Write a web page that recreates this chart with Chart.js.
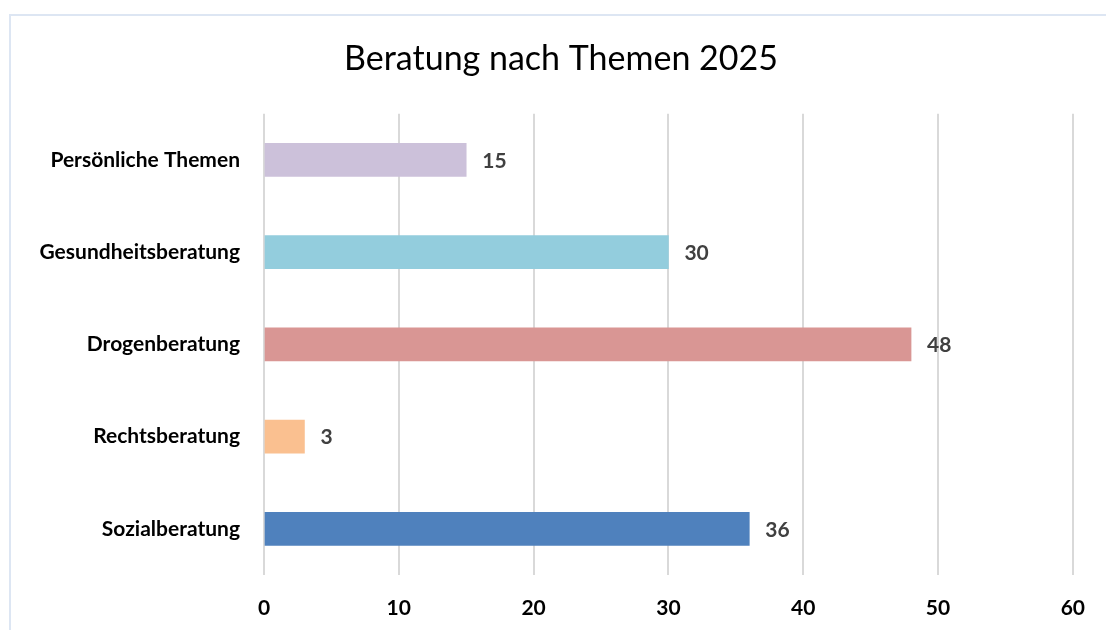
<!DOCTYPE html>
<html>
<head>
<meta charset="utf-8">
<script src="https://cdn.jsdelivr.net/npm/chart.js@4"></script>
<style>
    body { margin: 0; background: #fff; overflow: hidden; }
    #frame { position: absolute; left: 9px; top: 14px; width: 1200px; height: 700px; border: 2px solid #dde6f3; }
    #wrap { position: absolute; left: 0; top: 0; width: 1106px; height: 630px; }
</style>
</head>
<body>
<div id="frame"></div>
<div id="wrap"><canvas id="chart"></canvas></div>
<script>
"use strict";

const title = "Beratung nach Themen 2025";
const categories = ["Persönliche Themen", "Gesundheitsberatung", "Drogenberatung", "Rechtsberatung", "Sozialberatung"];
const values = [15, 30, 48, 3, 36];
const barColors = ["#ccc1da", "#93cddd", "#d99694", "#fac090", "#4f81bd"];
const xTicks = [0, 10, 20, 30, 40, 50, 60];

const fontName = "Lato, 'Open Sans', sans-serif";

// draws the number next to the end of each bar
const valueLabels = {
    id: "valueLabels",
    afterDatasetsDraw(chart){
        const ctx = chart.ctx;
        const meta = chart.getDatasetMeta(0);
        ctx.save();
        ctx.font = "bold 21px " + fontName;
        ctx.fillStyle = "#404040";
        ctx.textAlign = "left";
        ctx.textBaseline = "middle";
        meta.data.forEach(function(bar, i){
            ctx.fillText(String(values[i]), bar.x + 16, bar.y + 1);
        });
        ctx.restore();
    }
};

// title in the original sits a bit right of the canvas centre
const titleShift = {
    id: "titleShift",
    afterLayout(chart){
        if(chart.titleBlock){
            chart.titleBlock.left = 48;
        }
    }
};

new Chart(document.getElementById("chart"), {
    type: "bar",
    data: {
        labels: categories,
        datasets: [{
            data: values,
            backgroundColor: barColors,
            borderWidth: 0,
            barThickness: 33
        }]
    },
    options: {
        indexAxis: "y",
        responsive: true,
        maintainAspectRatio: false,
        animation: false,
        layout: {
            padding: { top: 39, right: 32, bottom: 0, left: 0 }
        },
        plugins: {
            legend: { display: false },
            tooltip: { enabled: false },
            title: {
                display: true,
                text: title,
                color: "#000",
                font: { family: fontName, size: 34, weight: "normal" },
                padding: { top: 0, bottom: 34 }
            }
        },
        scales: {
            x: {
                min: 0,
                max: 60,
                afterBuildTicks(scale){
                    scale.ticks = xTicks.map(function(v){ return { value: v }; });
                },
                afterFit(scale){ scale.height = 55; },
                grid: { color: "#d9d9d9", lineWidth: 2, drawTicks: false },
                border: { display: false },
                ticks: {
                    color: "#000",
                    padding: 21,
                    font: { family: fontName, size: 21, weight: "bold" }
                }
            },
            y: {
                afterFit(scale){ scale.width = 264; },
                grid: { display: false },
                border: { display: false },
                ticks: {
                    color: "#000",
                    padding: 16,
                    font: { family: fontName, size: 21, weight: "bold" }
                }
            }
        }
    },
    plugins: [valueLabels, titleShift]
});
</script>
</body>
</html>
